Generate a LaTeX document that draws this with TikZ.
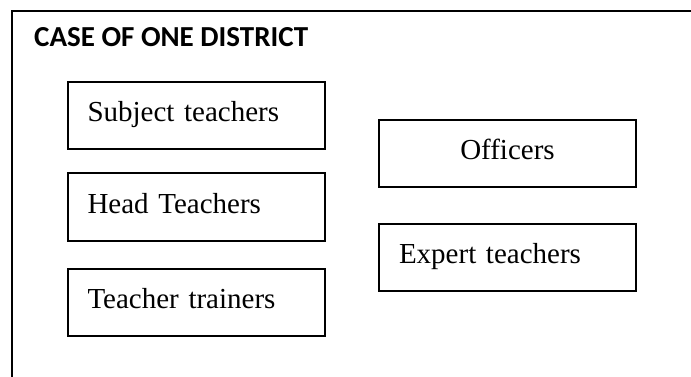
\documentclass[tikz,border=0pt]{standalone}
\usepackage{fontspec}
\setmainfont{Liberation Serif}
\newfontfamily\headfont{Carlito}
\usetikzlibrary{positioning}
\tikzstyle{group} = [rectangle, text width=217pt, minimum height=67pt, text height=24pt, text depth=12pt, align=left, inner xsep=20pt, draw=black, line width=2pt, font=\fontsize{29}{34}\selectfont]
\tikzstyle{groupc} = [group, align=center]
\tikzstyle{frame} = [line width=2pt]

\begin{document}
\begin{tikzpicture}[x=1pt, y=-1pt, node distance=22pt]
   \useasboundingbox (0,0) rectangle (691,377);
   \draw [frame] (12,377) -- (12,11) -- (691,11);
   \node (title) [anchor=base west, inner sep=0pt, font=\headfont\bfseries\fontsize{29}{34}\selectfont] at (34,47) {CASE OF ONE DISTRICT};

   \node (subject) [group] at (196,116) {Subject teachers};
   \node (head) [group, below=of subject] {Head Teachers};
   \node (trainers) [group, below=26pt of head] {Teacher trainers};

   \node (officers) [groupc] at (507.5,154) {Officers};
   \node (expert) [group, below=34pt of officers] {Expert teachers};
\end{tikzpicture}
\end{document}
